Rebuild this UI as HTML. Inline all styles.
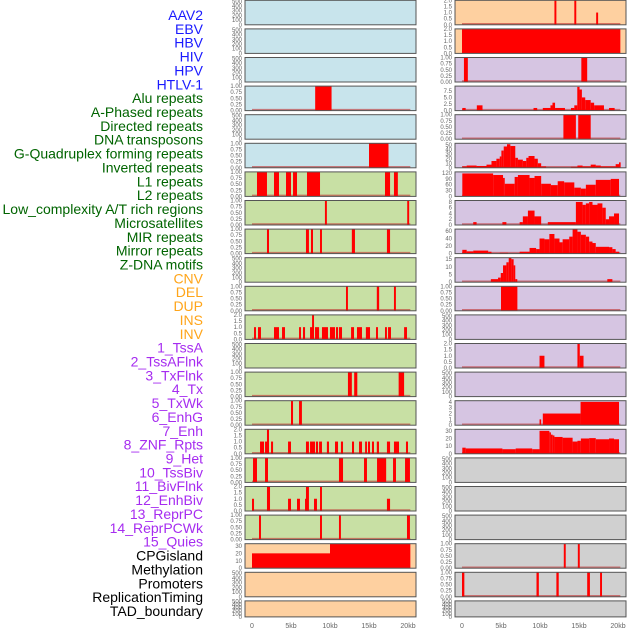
<!DOCTYPE html>
<html><head><meta charset="utf-8"><style>
html,body{margin:0;padding:0;background:#fff;}
svg{display:block;font-family:"Liberation Sans",sans-serif;}
</style></head><body>
<svg id="chart" width="630" height="630" viewBox="0 0 630 630"></svg>
<script>
const trackLabels = ["AAV2","EBV","HBV","HIV","HPV","HTLV-1","Alu repeats","A-Phased repeats","Directed repeats","DNA transposons","G-Quadruplex forming repeats","Inverted repeats","L1 repeats","L2 repeats","Low_complexity A/T rich regions","Microsatellites","MIR repeats","Mirror repeats","Z-DNA motifs","CNV","DEL","DUP","INS","INV","1_TssA","2_TssAFlnk","3_TxFlnk","4_Tx","5_TxWk","6_EnhG","7_Enh","8_ZNF_Rpts","9_Het","10_TssBiv","11_BivFlnk","12_EnhBiv","13_ReprPC","14_ReprPCWk","15_Quies","CPGisland","Methylation","Promoters","ReplicationTiming","TAD_boundary"];
const labelColors = ["#1a1aff","#1a1aff","#1a1aff","#1a1aff","#1a1aff","#1a1aff","#006400","#006400","#006400","#006400","#006400","#006400","#006400","#006400","#006400","#006400","#006400","#006400","#006400","#ffa51a","#ffa51a","#ffa51a","#ffa51a","#ffa51a","#a62cf0","#a62cf0","#a62cf0","#a62cf0","#a62cf0","#a62cf0","#a62cf0","#a62cf0","#a62cf0","#a62cf0","#a62cf0","#a62cf0","#a62cf0","#a62cf0","#a62cf0","#000","#000","#000","#000","#000"];
const xTickValues = [0,5,10,15,20];
const xTickLabels = ["0","5kb","10kb","15kb","20kb"];

const ticksEmpty = ["0","100","200","300","400","500"], ticksEmptyVals=[0,100,200,300,400,500];
const ticksUnit = ["0.00","0.25","0.50","0.75","1.00"], ticksUnitVals=[0,0.25,0.5,0.75,1];
const ticksTwo = ["0.0","0.5","1.0","1.5","2.0"], ticksTwoVals=[0,0.5,1,1.5,2];

// left column data (kb start, kb end, value)
const L3 = [[8.1,10.2,1]];
const L5 = [[15.0,17.5,1]];
const L6 = [[0.64,1.92,1],[2.82,3.46,1],[4.36,5.0,1],[5.26,5.77,1],[7.05,8.72,1],[17.05,17.7,1],[18.2,18.7,1]];
const L7 = [[9.35,9.6,1],[19.9,20.15,1]];
const L8 = [[1.92,2.18,1],[6.92,7.3,1],[7.56,7.82,1],[8.72,8.97,1],[12.8,13.2,1],[17.3,17.7,1]];
const L10 = [[12.05,12.3,1],[16.0,16.3,1],[18.2,18.45,1]];
const L11 = [[0.26,0.51,1],[0.77,1.15,1],[2.82,3.46,1],[3.85,4.23,1],[6.03,6.28,1],[6.54,6.8,1],[7.44,7.95,1],[7.7,7.95,2],[8.08,8.6,1],[8.97,9.74,1],[10.0,10.64,1],[10.77,11.03,1],[11.15,11.54,1],[12.7,13.08,1],[13.46,14.1,1],[14.6,15.13,1],[15.9,16.15,1],[17.05,17.3,1],[17.44,17.82,1],[19.5,19.87,1]];
const L13 = [[12.3,12.8,1],[13.1,13.5,1],[18.8,19.5,1]];
const L14 = [[5.0,5.26,1],[6.03,6.4,1]];
const L15 = [[1.03,1.54,1],[1.67,2.05,1],[1.92,2.18,2],[2.44,2.7,1],[4.62,5.0,1],[6.92,7.3,1],[7.44,8.08,1],[8.2,8.46,1],[8.6,8.97,1],[9.6,9.87,1],[10.64,11.03,1],[11.4,11.67,1],[12.82,13.08,1],[13.72,14.1,1],[14.5,14.74,1],[14.87,15.13,1],[15.38,15.64,1],[16.0,16.28,1],[17.3,17.7,1],[18.2,18.85,1],[19.74,20.0,1]];
const L16 = [[0.13,0.64,1],[1.67,2.05,1],[11.15,11.67,1],[14.36,14.74,1],[16.03,17.2,1],[18.08,18.46,1],[19.62,20.25,1]];
const L17 = [[0,0.26,1],[1.92,2.31,2],[4.62,5.0,1],[5.77,6.15,1],[6.8,7.05,1],[6.92,7.3,2],[7.95,8.33,1],[8.72,8.97,2],[17.3,17.7,1]];
const L18 = [[0.9,1.15,1],[8.72,8.97,1],[11.15,11.4,1],[19.87,20.25,1]];
const L19 = [[0,10,20],[10,20.3,33]];

// right column data
const R0 = [[11.85,12.1,2],[14.4,14.65,2],[17.2,17.45,1]];
const R1 = [[0,20.3,2]];
const R2 = [[0.25,0.75,1],[15.3,16.05,1]];
const R3 = [[0.04,0.47,1],[1.9,2.63,2],[9.17,9.64,1],[10.36,11.34,1],[11.34,11.6,2],[11.6,11.93,3],[11.93,13.2,1],[13.97,14.4,1],[14.4,14.78,2],[14.78,15.07,9],[15.07,15.37,8],[15.37,15.8,5],[15.8,16.5,4],[16.5,16.94,3],[16.94,18.2,2],[18.85,19.57,1]];
const R4 = [[13.0,14.6,1],[14.9,16.5,1]];
const R5 = [[0.04,0.6,3],[0.6,1.87,5],[1.87,3.14,4],[3.14,3.78,7],[3.78,4.41,15],[4.41,4.84,20],[4.84,5.05,25],[5.05,5.35,38],[5.35,5.77,47],[5.77,6.2,52],[6.2,6.83,48],[6.83,7.17,22],[7.17,7.8,18],[7.8,8.24,15],[8.24,8.53,22],[8.53,9.3,26],[9.3,9.72,20],[9.72,10.15,10],[10.15,10.78,3],[13.96,14.8,2],[14.8,15.46,5],[15.46,16.5,3],[16.5,17.15,7],[17.15,17.79,5],[17.79,19.7,3],[19.7,20.13,8],[20.13,20.34,12]];
const R6 = [[0.04,3.99,118],[3.99,5.26,110],[5.26,5.48,95],[5.48,6.75,65],[6.75,7.17,100],[7.17,8.66,110],[8.66,9.3,95],[9.3,10.15,105],[10.15,11.4,65],[11.4,12.27,58],[12.27,13.1,78],[13.1,14.4,72],[14.4,15.24,45],[15.24,15.88,40],[15.88,17.15,60],[17.15,19.07,85],[19.07,20.13,90]];
const R7 = [[1.44,1.87,1],[5.18,5.69,1],[7.39,7.8,1],[7.8,8.45,3],[8.45,9.3,5],[9.3,10.15,3],[11.0,14.6,1],[14.6,15.46,8],[15.46,15.88,7],[15.88,16.3,7.5],[16.3,16.73,8],[16.73,17.37,7],[17.37,18.0,7.5],[18.0,18.43,6],[18.43,18.85,2],[18.85,19.49,3],[19.49,20.13,4]];
const R8 = [[0.04,0.6,10],[0.6,1.44,6],[1.44,3.36,8],[3.36,3.78,5],[4.84,5.9,2],[7.39,8.66,5],[8.66,9.5,15],[9.5,9.94,12],[9.94,10.57,40],[10.57,11.2,38],[11.2,11.85,52],[11.85,12.5,40],[12.5,12.9,30],[12.9,13.75,38],[13.75,14.18,45],[14.18,14.8,65],[14.8,15.24,58],[15.24,15.88,50],[15.88,16.3,45],[16.3,16.73,32],[16.73,17.15,28],[17.15,18.85,18],[18.85,19.28,17],[19.28,19.7,12],[19.7,20.13,5]];
const R9 = [[3.7,4.62,2],[4.62,4.97,3],[4.97,5.26,6],[5.26,5.69,11],[5.69,5.99,13],[5.99,6.33,16],[6.33,6.62,15],[6.62,6.83,11],[6.83,7.09,2],[18.63,19.28,2]];
const R10 = [[5.0,7.1,1]];
const R12 = [[9.94,10.57,1],[14.8,15.1,2],[15.1,15.58,1]];
const R14 = [[9.94,10.15,1],[10.36,15.2,2],[15.2,20.13,4]];
const R15 = [[0.04,0.47,8],[0.47,5.18,7],[5.18,6.88,6],[6.88,9.0,7],[9.0,9.94,6],[9.94,11.2,30],[11.2,11.4,28],[11.4,11.63,25],[11.63,11.85,24],[11.85,12.9,22],[12.9,14.18,21],[14.18,14.8,16],[14.8,15.24,17],[15.24,16.3,20],[16.3,17.15,20.5],[17.15,18.85,19],[18.85,19.49,20],[19.49,20.13,19]];
const R19 = [[13.05,13.3,1],[14.85,15.1,1]];
const R20 = [[0,0.3,1],[9.55,9.85,1],[12.1,12.4,1],[16.05,16.4,1],[17.7,17.95,1]];

const BLUE="#c8e4ec",GREEN="#c8e0a4",PEACH="#fed0a0",LAV="#d6c5e2",GRAY="#d0d0d0";
const leftBg=[BLUE,BLUE,BLUE,BLUE,BLUE,BLUE,GREEN,GREEN,GREEN,GREEN,GREEN,GREEN,GREEN,GREEN,GREEN,GREEN,GREEN,GREEN,GREEN,PEACH,PEACH,PEACH];
const rightBg=[PEACH,PEACH,LAV,LAV,LAV,LAV,LAV,LAV,LAV,LAV,LAV,LAV,LAV,LAV,LAV,LAV,GRAY,GRAY,GRAY,GRAY,GRAY,GRAY];
const E=null;
const leftData=[E,E,E,L3,E,L5,L6,L7,L8,E,L10,L11,E,L13,L14,L15,L16,L17,L18,L19,E,E];
const rightData=[R0,R1,R2,R3,R4,R5,R6,R7,R8,R9,R10,E,R12,E,R14,R15,E,E,E,R19,R20,E];
// [ymax, tick values, tick labels]
const tU=[1.0,ticksUnitVals,ticksUnit], tT=[2.0,ticksTwoVals,ticksTwo];
const leftScale=[E,E,E,tU,E,tU,tU,tU,tU,E,tU,tT,E,tU,tU,tT,tU,tT,tU,[33,[0,10,20,30],["0","10","20","30"]],E,E];
const rightScale=[tT,tT,tU,[9.3,[0,2.5,5,7.5],["0.0","2.5","5.0","7.5"]],tU,[54,[0,10,20,30,40,50],["0","10","20","30","40","50"]],[126,[0,30,60,90,120],["0","30","60","90","120"]],[8.5,[0,2,4,6,8],["0","2","4","6","8"]],[65,[0,20,40,60],["0","20","40","60"]],[16,[0,5,10,15],["0","5","10","15"]],tU,E,tT,E,[4.2,[0,1,2,3,4],["0","1","2","3","4"]],[32,[0,10,20,30],["0","10","20","30"]],E,E,E,tU,tU,E];

const NS="http://www.w3.org/2000/svg";
const svg=document.getElementById('chart');
function mk(tag,attrs,parent){const e=document.createElementNS(NS,tag);for(const k in attrs)e.setAttribute(k,attrs[k]);(parent||svg).appendChild(e);return e;}

// labels
trackLabels.forEach((t,i)=>{
  const e=mk('text',{x:203,y:20+i*13.86,'text-anchor':'end','font-size':14,fill:labelColors[i]});
  
  
  e.textContent=t;
});

const colX=[245,455], PW=171, KB=7.8;
function xScale(col,kb){return colX[col]+7+kb*KB;}
function panelTop(r){return 0.3+28.6*r;}
function panelH(r){return r===21?16:24.5;}

function drawPanel(col,r,bg,data,scale){
  const g=mk('g',{});
  
  
  const top=panelTop(r),h=panelH(r),bot=top+h;
  mk('rect',{x:colX[col],y:top,width:PW,height:h,fill:bg},g);
  const ymax=scale?scale[0]:520, tv=scale?scale[1]:ticksEmptyVals, tl=scale?scale[2]:ticksEmpty;
  const yS=v=>bot-v/ymax*h;
  tv.forEach((v,i)=>{
    const t=mk('text',{x:colX[col]-3,y:yS(v)+2,'text-anchor':'end','font-size':6,fill:'#666'},g);
    
    
    t.textContent=tl[i];
  });
  if(data){
    mk('line',{x1:xScale(col,0),x2:xScale(col,20.3),y1:bot-1,y2:bot-1,stroke:'#c03030','stroke-width':1.5,'stroke-opacity':0.6},g);
    data.forEach(d=>{
      const x1=xScale(col,d[0]),x2=xScale(col,d[1]),y=Math.max(top,yS(d[2]));
      const b=mk('rect',{x:x1,y:y,width:Math.max(1.2,x2-x1),height:bot-y,fill:'#ff0000'},g);
      
      
    });
  }
  mk('rect',{x:colX[col],y:top,width:PW,height:h,fill:'none',stroke:'#555','stroke-width':1},g);
}
for(let r=0;r<22;r++){
  drawPanel(0,r,leftBg[r],leftData[r],leftScale[r]);
  drawPanel(1,r,rightBg[r],rightData[r],rightScale[r]);
}
[0,1].forEach(col=>{
  xTickValues.forEach((v,i)=>{
    const t=mk('text',{x:xScale(col,v),y:628,'text-anchor':'middle','font-size':7,fill:'#666'});
    
    
    t.textContent=xTickLabels[i];
  });
});
</script>
</body></html>
